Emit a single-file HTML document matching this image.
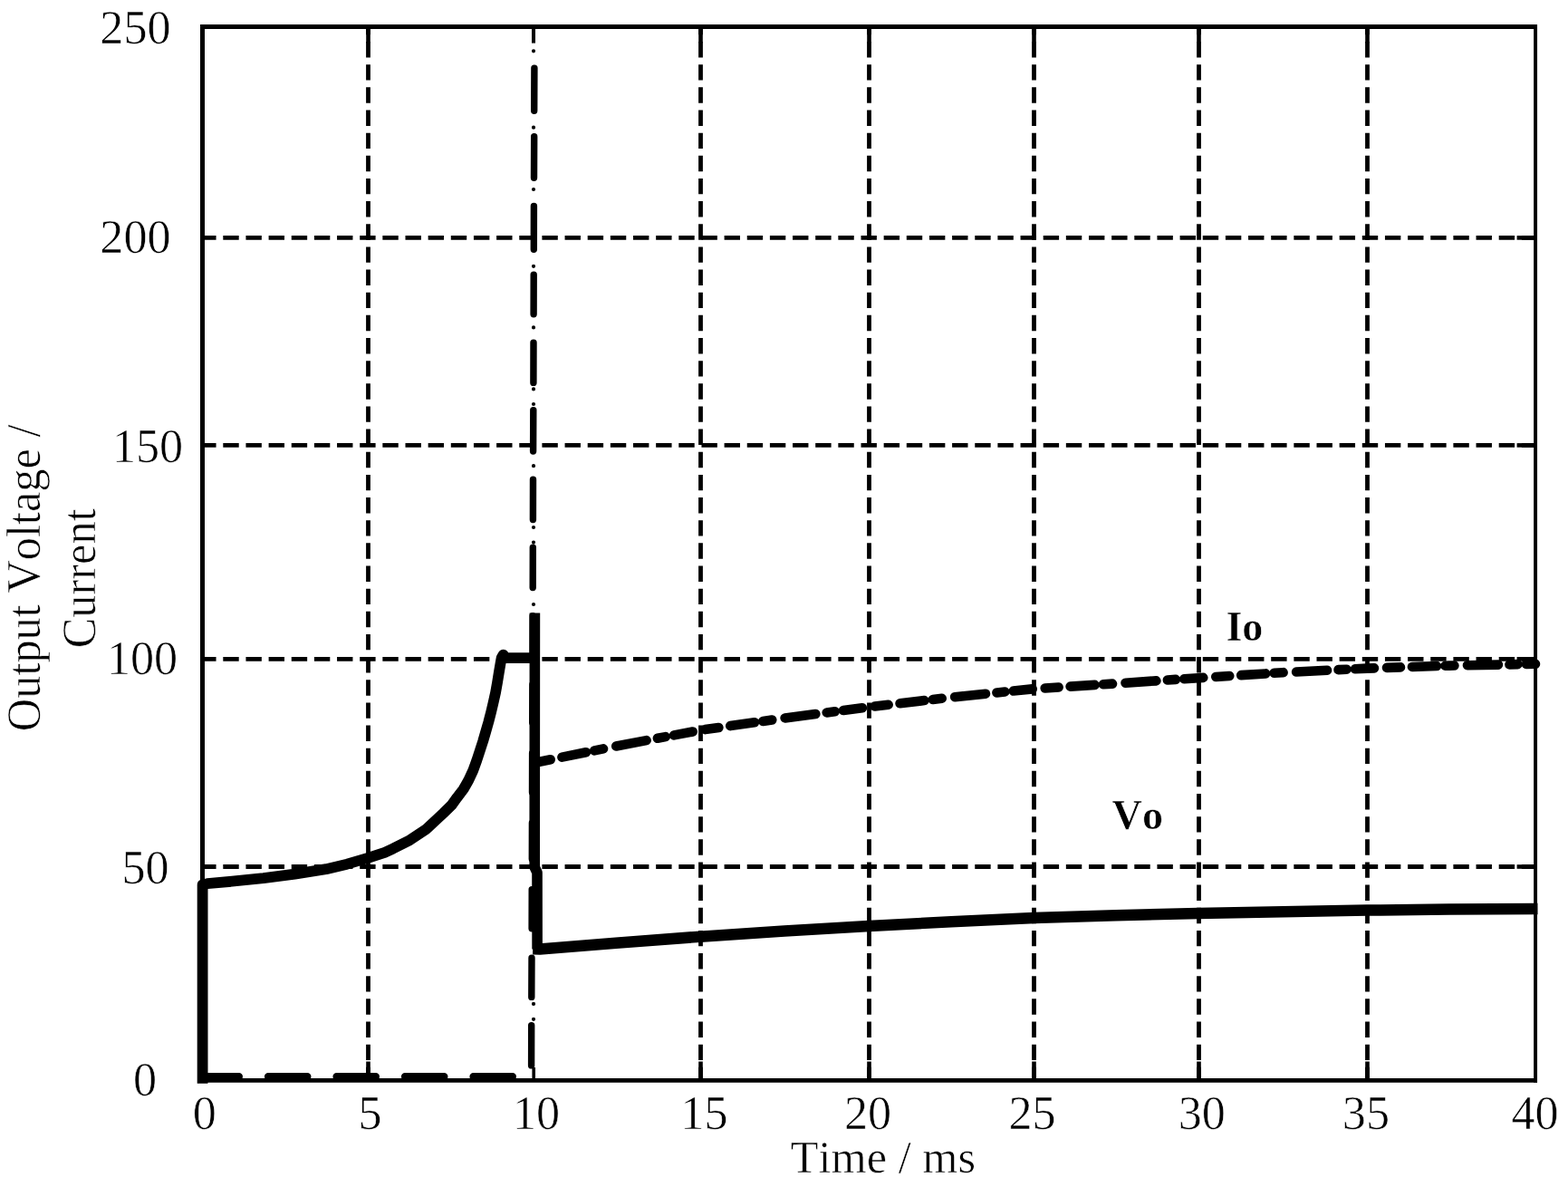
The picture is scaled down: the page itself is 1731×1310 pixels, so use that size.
<!DOCTYPE html>
<html lang="en"><head><meta charset="utf-8"><title>Output Voltage / Current vs Time</title>
<style>
html,body{margin:0;padding:0;background:#fff;}
body{width:1731px;height:1310px;overflow:hidden;}
svg{display:block;}
text{font-family:"Liberation Serif","Times New Roman",serif;fill:#000;font-kerning:none;stroke:#fff;stroke-width:0.6px;paint-order:fill stroke;}
.t{font-size:52.2px;}
.b{font-size:46.2px;font-weight:bold;}
.g{stroke:#000;stroke-width:4.8;fill:none;stroke-dasharray:17.4 7.75;}
.k{stroke:#000;stroke-width:4.6;fill:none;}
.f{stroke:#000;fill:none;}
</style></head><body>
<svg width="1731" height="1310" viewBox="0 0 1731 1310">
<rect x="0" y="0" width="1731" height="1310" fill="#fff"/>
<g id="grid">
<path class="g" d="M223.5 262.4 H1695.1" stroke-dashoffset="2.35"/>
<path class="k" d="M1674.6 262.4 H1695.1"/>
<path class="g" d="M223.5 491.4 H1695.1" stroke-dashoffset="2.35"/>
<path class="k" d="M1674.6 491.4 H1695.1"/>
<path class="g" d="M223.5 727.3 H1695.1" stroke-dashoffset="2.35"/>
<path class="k" d="M1674.6 727.3 H1695.1"/>
<path class="g" d="M223.5 956.5 H1695.1" stroke-dashoffset="2.35"/>
<path class="k" d="M1674.6 956.5 H1695.1"/>
<path class="g" d="M406.5 29.5 V1192.4" stroke-dashoffset="8.6"/>
<path class="k" d="M406.5 29.5 V47.5"/>
<path class="k" d="M406.5 1171.5 V1192.4"/>
<path class="g" d="M773.5 29.5 V1192.4" stroke-dashoffset="8.6"/>
<path class="k" d="M773.5 29.5 V47.5"/>
<path class="k" d="M773.5 1171.5 V1192.4"/>
<path class="g" d="M959.5 29.5 V1192.4" stroke-dashoffset="8.6"/>
<path class="k" d="M959.5 29.5 V47.5"/>
<path class="k" d="M959.5 1171.5 V1192.4"/>
<path class="g" d="M1141.5 29.5 V1192.4" stroke-dashoffset="8.6"/>
<path class="k" d="M1141.5 29.5 V47.5"/>
<path class="k" d="M1141.5 1171.5 V1192.4"/>
<path class="g" d="M1323.5 29.5 V1192.4" stroke-dashoffset="8.6"/>
<path class="k" d="M1323.5 29.5 V47.5"/>
<path class="k" d="M1323.5 1171.5 V1192.4"/>
<path class="g" d="M1509.5 29.5 V1192.4" stroke-dashoffset="8.6"/>
<path class="k" d="M1509.5 29.5 V47.5"/>
<path class="k" d="M1509.5 1171.5 V1192.4"/>
</g>
<g id="marker10">
<path class="f" stroke-width="4" d="M589 29.5 V47.6"/>
<path class="f" stroke-width="3.6" d="M589.2 1178 V1192.4"/>
<path class="f" stroke-width="4.2" stroke-linecap="round" d="M589 56.3h0.01M589 140.7h0.01M589 209h0.01M589 293.8h0.01M589 361.4h0.01M589 429.4h0.01M589 446h0.01M589 514.2h0.01M589 582h0.01M589 598.6h0.01M589 667h0.01M589 1107.9h0.01M589 1124.8h0.01"/>
<path class="f" stroke-width="7.4" stroke-linecap="round" d="M589.9 75.1L589.7 122.2M589.7 150.7L589.5 196.2M589.4 227.5L589.3 275.3M589.2 303.1L589.1 346.8M589.0 378.1L588.9 422.4M588.8 452.6L588.6 498.0M588.5 529.3L588.4 573.6M588.3 604.2L588.2 648.6M588.1 679.8L588.0 723.4M587.9 755.4L587.7 797.4M587.6 831.1L587.5 874.4M587.4 908.3L587.3 948.0M587.2 981.6L587.1 1024.8M587.0 1057.2L586.8 1100.4M586.7 1131.6L586.6 1175.9"/>
</g>
<g id="io0">
<path class="f" stroke-width="8.4" stroke-linecap="round" d="M223.2 1188.3H263.8M296.1 1188.3H339.3M371.6 1188.3H414.8M447.1 1188.3H490.3M522.6 1188.3H565.8"/>
</g>
<g id="frame">
<path class="f" stroke-width="5" d="M223.5 27.1 V1194.8"/>
<path class="f" stroke-width="3.9" d="M1695.1 27.1 V1194.8"/>
<path class="f" stroke-width="4.8" d="M221 29.5 H1697"/>
<path class="f" stroke-width="4.8" d="M221 1192.4 H1697"/>
</g>
<g id="vo">
<path class="f" stroke-width="11.8" stroke-linejoin="round" d="M223.6 1195.8 L223.6 976.5 L229 975.2 L256.2 972.7 L290.9 969.2 L325.5 964.6 L360 959.2 L383.1 953.7 L406.2 946.9 L424.7 940.9 L433.9 936.6 L452.4 927.2 L470.9 914.8 L489.4 897.5 L498.6 888.5 L504.5 880.3 L511.6 871 L517.3 861 L522.3 850.2 L526.2 839.5 L529.8 828.5 L533.2 818 L536.4 807 L539.4 796.5 L542.2 785.6 L544.7 775 L547.1 764.2 L549 753.5 L550.7 743 L552.4 733 L553.6 726.2 L555.6 722.6 L558 726.2 L590.4 726.2"/>
<path class="f" stroke-width="11.6" stroke-linejoin="round" d="M590.4 676.5 L590.2 957 L593 963 L593.1 1047.6"/>
<path class="f" stroke-width="12.5" stroke-linejoin="round" d="M588.2 1047.2 L596 1047.4 L680 1040.7 L773 1033.7 L866 1027.4 L959.5 1022 L1050 1017.2 L1141.6 1013 L1232 1010.2 L1323 1008 L1416 1006.2 L1509.3 1004.6 L1600 1003.6 L1697.5 1003.1"/>
</g>
<g id="io">
<path class="f" stroke-width="10.6" stroke-linecap="round" stroke-linejoin="round" stroke-dasharray="15 13 27 9.5 10 14.5 34 12.5 9 9.5 21 14" d="M593 841.2 L680 823.5 L773 805.9 L866 792.5 L959.5 780.3 L1050 769.6 L1141.6 760.2 L1232 754.4 L1323 748.2 L1416 742.2 L1509.3 737.6 L1600 734.6 L1695 732.8"/>
</g>
<g id="ylabels">
<text class="t" x="110.3" y="47.9">250</text>
<text class="t" x="110.3" y="278.9">200</text>
<text class="t" x="123.9" y="509.9">150</text>
<text class="t" x="117.9" y="743.9">100</text>
<text class="t" x="134.5" y="974.7">50</text>
<text class="t" x="147.0" y="1208.6">0</text>
</g>
<g id="xlabels">
<text class="t" x="212.8" y="1245.9">0</text>
<text class="t" x="395.4" y="1245.9">5</text>
<text class="t" x="565.9" y="1245.9">10</text>
<text class="t" x="751.3" y="1245.9">15</text>
<text class="t" x="932.0" y="1245.9">20</text>
<text class="t" x="1113.5" y="1245.9">25</text>
<text class="t" x="1300.7" y="1245.9">30</text>
<text class="t" x="1481.8" y="1245.9">35</text>
<text class="t" x="1668.4" y="1245.9">40</text>
</g>
<text class="t" style="font-size:50.4px" x="872.8" y="1293.8">Time / ms</text>
<text class="b" x="1353.4" y="707.0">Io</text>
<text class="b" x="1227.6" y="915.4">Vo</text>
<text class="t" style="font-size:50.4px" transform="translate(43.9 807.2) rotate(-90) scale(1 1.03)" x="0" y="0">Output Voltage /</text>
<text class="t" style="font-size:50.4px" transform="translate(105.3 715.3) rotate(-90) scale(1 1.03)" x="0" y="0">Current</text>
</svg>
</body></html>
